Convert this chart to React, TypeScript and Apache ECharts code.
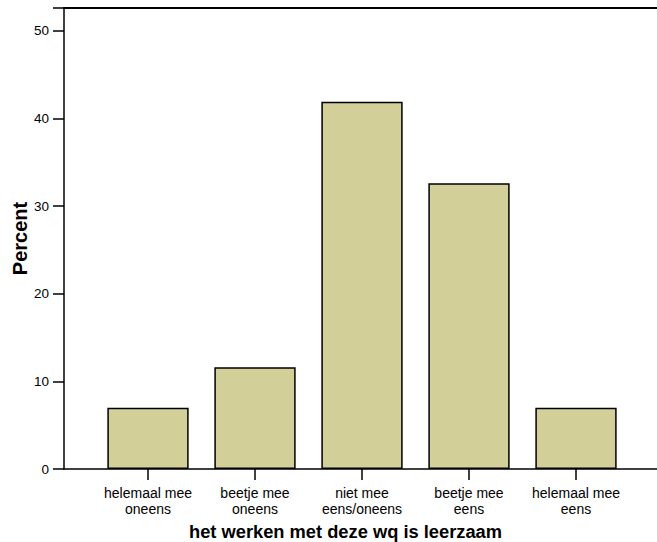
import React, { useEffect, useRef } from "react";
import * as echarts from "echarts";

const categories = [
  "helemaal mee\noneens",
  "beetje mee\noneens",
  "niet mee\neens/oneens",
  "beetje mee\neens",
  "helemaal mee\neens",
];
const percents = [7.0, 11.6, 41.9, 32.6, 7.0];
const yTickMax = 52.6;
const xTitle = "het werken met deze wq is leerzaam";
const yTitle = "Percent";

export default function App() {
  const ref = useRef<HTMLDivElement>(null);
  useEffect(() => {
    if (!ref.current) return;
    const chart = echarts.init(ref.current, undefined, { renderer: "svg" });
    const font = "'Liberation Sans', Arial, sans-serif";
    chart.setOption({
      animation: false,
      backgroundColor: "#ffffff",
      textStyle: { fontFamily: font },
      grid: [
        { left: 64, top: 8, right: 0, height: 461, containLabel: false, outerBoundsMode: "none" },
        { left: 94.5, top: 8, width: 535, height: 461, containLabel: false, outerBoundsMode: "none" },
      ],
      xAxis: [
        {
          type: "value",
          gridIndex: 0,
          min: 0,
          max: 1,
          position: "bottom",
          axisLine: { show: true, lineStyle: { color: "#000", width: 1.5 } },
          axisTick: { show: false },
          axisLabel: { show: false },
          splitLine: { show: false },
        },
        {
          type: "value",
          gridIndex: 0,
          min: 0,
          max: 1,
          position: "top",
          axisLine: { show: true, lineStyle: { color: "#000", width: 2 } },
          axisTick: { show: false },
          axisLabel: { show: false },
          splitLine: { show: false },
        },
        {
          type: "category",
          gridIndex: 1,
          data: categories,
          axisLine: { show: false },
          axisTick: {
            show: true,
            alignWithLabel: true,
            length: 11,
            lineStyle: { color: "#000", width: 1.5 },
          },
          axisLabel: {
            color: "#000",
            fontSize: 14,
            lineHeight: 16,
            margin: 16,
            fontFamily: font,
            interval: 0,
          },
          name: xTitle,
          nameLocation: "middle",
          nameGap: 53,
          nameMoveOverlap: false,
          nameTextStyle: {
            color: "#000",
            fontSize: 18.3,
            fontWeight: "bold",
            fontFamily: font,
            padding: [0, 33, 0, 0],
          },
        },
      ],
      yAxis: [
        {
          type: "value",
          gridIndex: 0,
          min: 0,
          max: yTickMax,
          interval: 10,
          axisLine: { show: true, lineStyle: { color: "#000", width: 1.5 } },
          axisTick: { show: true, length: 11, lineStyle: { color: "#000", width: 1.5 } },
          axisLabel: {
            color: "#000",
            fontSize: 13.5,
            margin: 15,
            fontFamily: font,
            formatter: (v: number) => (v % 10 === 0 ? String(v) : ""),
          },
          splitLine: { show: false },
          name: yTitle,
          nameLocation: "middle",
          nameGap: 34,
          nameMoveOverlap: false,
          nameTextStyle: {
            color: "#000",
            fontSize: 20,
            fontWeight: "bold",
            fontFamily: font,
          },
        },
        {
          type: "value",
          gridIndex: 1,
          min: 0,
          max: yTickMax,
          show: false,
        },
      ],
      series: [
        {
          type: "bar",
          xAxisIndex: 2,
          yAxisIndex: 1,
          data: percents,
          barCategoryGap: "24%",
          itemStyle: {
            color: "#d3cf98",
            borderColor: "#000",
            borderWidth: 1.5,
          },
        },
      ],
    });
    return () => chart.dispose();
  }, []);
  return (
    <div
      ref={ref}
      style={{ position: "absolute", left: 0, top: 0, width: 657, height: 542 }}
    />
  );
}
